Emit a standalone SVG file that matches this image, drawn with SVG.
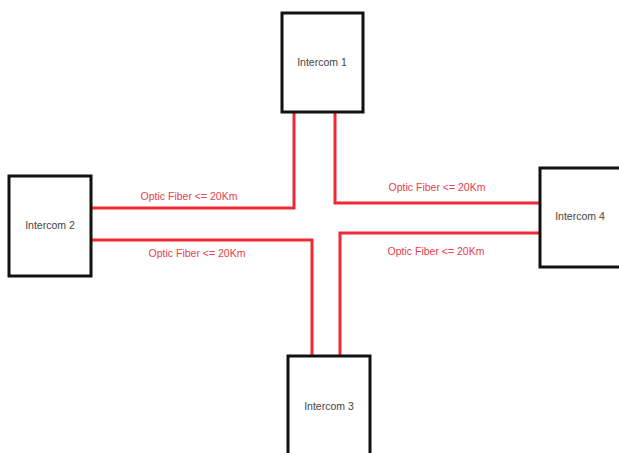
<svg xmlns="http://www.w3.org/2000/svg" width="619" height="453" viewBox="0 0 619 453">
<style>
.box{fill:#fff;stroke:#111;stroke-width:3}
.lbl{font-family:"Liberation Sans",Arial,sans-serif;font-size:10.5px;fill:#444;text-anchor:middle}
.fiber{fill:none;stroke:#ee2a36;stroke-width:3}
.flbl{font-family:"Liberation Sans",Arial,sans-serif;font-size:10.5px;fill:#e8404c;text-anchor:middle}
</style>
<rect width="619" height="453" fill="#fff"/>
<g id="connectors">
<polyline class="fiber" points="92,208 294,208 294,112"/>
<polyline class="fiber" points="92,240 312,240 312,356"/>
<polyline class="fiber" points="335,112 335,203 539,203"/>
<polyline class="fiber" points="340,356 340,233 539,233"/>
<text class="flbl" x="189" y="200">Optic Fiber &lt;= 20Km</text>
<text class="flbl" x="197" y="257">Optic Fiber &lt;= 20Km</text>
<text class="flbl" x="437" y="191">Optic Fiber &lt;= 20Km</text>
<text class="flbl" x="436" y="255">Optic Fiber &lt;= 20Km</text>
</g>
<g id="intercom1">
<rect class="box" x="282" y="13" width="81" height="99"/>
<text class="lbl" x="322" y="66">Intercom 1</text>
</g>
<g id="intercom2">
<rect class="box" x="9" y="176" width="82" height="100"/>
<text class="lbl" x="50" y="229">Intercom 2</text>
</g>
<g id="intercom3">
<rect class="box" x="288" y="356" width="82" height="100"/>
<text class="lbl" x="329" y="410">Intercom 3</text>
</g>
<g id="intercom4">
<rect class="box" x="540" y="168" width="82" height="99"/>
<text class="lbl" x="580" y="220">Intercom 4</text>
</g>
</svg>
